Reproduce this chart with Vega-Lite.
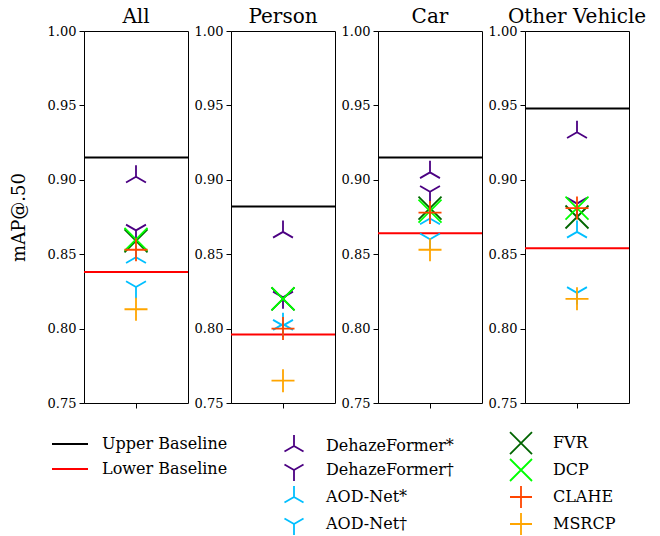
{
  "$schema": "https://vega.github.io/schema/vega-lite/v6.json",
  "background": "white",
  "padding": {"left": 9, "top": 6, "right": 10, "bottom": 5},
  "datasets": {
    "points": [
      {"panel": "All", "method": "DehazeFormer*", "value": 0.902},
      {"panel": "All", "method": "DehazeFormer†", "value": 0.866},
      {"panel": "All", "method": "AOD-Net*", "value": 0.848},
      {"panel": "All", "method": "AOD-Net†", "value": 0.828},
      {"panel": "All", "method": "FVR", "value": 0.859},
      {"panel": "All", "method": "DCP", "value": 0.860},
      {"panel": "All", "method": "CLAHE", "value": 0.853},
      {"panel": "All", "method": "MSRCP", "value": 0.813},
      {"panel": "Person", "method": "DehazeFormer*", "value": 0.865},
      {"panel": "Person", "method": "DehazeFormer†", "value": 0.821},
      {"panel": "Person", "method": "AOD-Net*", "value": 0.803},
      {"panel": "Person", "method": "AOD-Net†", "value": 0.802},
      {"panel": "Person", "method": "FVR", "value": 0.820},
      {"panel": "Person", "method": "DCP", "value": 0.820},
      {"panel": "Person", "method": "CLAHE", "value": 0.800},
      {"panel": "Person", "method": "MSRCP", "value": 0.765},
      {"panel": "Car", "method": "DehazeFormer*", "value": 0.905},
      {"panel": "Car", "method": "DehazeFormer†", "value": 0.892},
      {"panel": "Car", "method": "AOD-Net*", "value": 0.874},
      {"panel": "Car", "method": "AOD-Net†", "value": 0.860},
      {"panel": "Car", "method": "FVR", "value": 0.881},
      {"panel": "Car", "method": "DCP", "value": 0.879},
      {"panel": "Car", "method": "CLAHE", "value": 0.878},
      {"panel": "Car", "method": "MSRCP", "value": 0.853},
      {"panel": "Other Vehicle", "method": "DehazeFormer*", "value": 0.932},
      {"panel": "Other Vehicle", "method": "DehazeFormer†", "value": 0.884},
      {"panel": "Other Vehicle", "method": "AOD-Net*", "value": 0.865},
      {"panel": "Other Vehicle", "method": "AOD-Net†", "value": 0.824},
      {"panel": "Other Vehicle", "method": "FVR", "value": 0.875},
      {"panel": "Other Vehicle", "method": "DCP", "value": 0.881},
      {"panel": "Other Vehicle", "method": "CLAHE", "value": 0.881},
      {"panel": "Other Vehicle", "method": "MSRCP", "value": 0.820}
    ],
    "baselines": [
      {"panel": "All", "baseline": "Upper Baseline", "value": 0.915},
      {"panel": "All", "baseline": "Lower Baseline", "value": 0.838},
      {"panel": "Person", "baseline": "Upper Baseline", "value": 0.882},
      {"panel": "Person", "baseline": "Lower Baseline", "value": 0.796},
      {"panel": "Car", "baseline": "Upper Baseline", "value": 0.915},
      {"panel": "Car", "baseline": "Lower Baseline", "value": 0.864},
      {"panel": "Other Vehicle", "baseline": "Upper Baseline", "value": 0.948},
      {"panel": "Other Vehicle", "baseline": "Lower Baseline", "value": 0.854}
    ]
  },
  "config": {
    "font": "DejaVu Serif",
    "view": {"stroke": "black", "strokeWidth": 1},
    "axis": {"labelFont": "DejaVu Serif", "labelFontSize": 13, "labelColor": "black", "tickColor": "black", "tickSize": 5, "tickWidth": 1, "domainColor": "black", "grid": false, "labelPadding": 3, "titleFont": "DejaVu Serif", "titleFontSize": 18, "titleFontWeight": "normal", "titleColor": "black"},
    "title": {"font": "DejaVu Serif", "fontSize": 20, "fontWeight": "normal", "color": "black", "offset": -2},
    "legend": {"labelFont": "DejaVu Serif", "labelFontSize": 16, "labelColor": "black", "labelLimit": 400, "padding": 0}
  },
  "spacing": 43,
  "bounds": "flush",
  "resolve": {"scale": {"color": "shared", "shape": "shared", "stroke": "shared"}},
  "hconcat": [
    {
      "width": 104, "height": 372, "title": "All",
      "encoding": {"y": {"field": "value", "type": "quantitative", "scale": {"domain": [0.75, 1.0], "nice": false, "zero": false}, "axis": {"values": [0.75, 0.8, 0.85, 0.9, 0.95, 1.0], "format": ".2f", "title": "mAP@.50", "titlePadding": 19}}},
      "layer": [
        {"data": {"name": "baselines"}, "transform": [{"filter": "datum.panel === 'All'"}], "mark": {"type": "rule", "strokeWidth": 2},
         "encoding": {"stroke": {"field": "baseline", "type": "nominal", "scale": {"domain": ["Upper Baseline", "Lower Baseline"], "range": ["black", "red"]}, "legend": {"title": null, "orient": "none", "legendX": -27, "legendY": 400, "symbolType": "M-1.5,0L1.5,0", "symbolSize": 576, "symbolStrokeWidth": 2, "rowPadding": 4, "labelOffset": 19}}}},
        {"data": {"name": "points"}, "transform": [{"filter": "datum.panel === 'All'"}], "mark": {"type": "point", "filled": false, "strokeWidth": 1.8, "size": 529, "opacity": 1},
         "encoding": {
           "x": {"datum": "c", "type": "nominal", "axis": {"labels": false, "title": null, "domain": false}},
           "color": {"field": "method", "type": "nominal", "scale": {"domain": ["DehazeFormer*", "DehazeFormer†", "AOD-Net*", "AOD-Net†", "FVR", "DCP", "CLAHE", "MSRCP"], "range": ["#4B0082", "#4B0082", "#00BFFF", "#00BFFF", "#006400", "#00FF00", "#FF4500", "#FFA500"]}, "legend": {"title": null, "orient": "none", "legendX": 198, "legendY": 400, "columns": 2, "columnPadding": 52, "rowPadding": -4, "symbolSize": 484, "symbolStrokeWidth": 1.8, "labelOffset": 20}},
           "shape": {"field": "method", "type": "nominal", "scale": {"domain": ["DehazeFormer*", "DehazeFormer†", "AOD-Net*", "AOD-Net†", "FVR", "DCP", "CLAHE", "MSRCP"], "range": ["M0,0L0,-1M0,0L-0.866,0.5M0,0L0.866,0.5", "M0,0L0,1M0,0L-0.866,-0.5M0,0L0.866,-0.5", "M0,0L0,-1M0,0L-0.866,0.5M0,0L0.866,0.5", "M0,0L0,1M0,0L-0.866,-0.5M0,0L0.866,-0.5", "M-1,-1L1,1M-1,1L1,-1", "M-1,-1L1,1M-1,1L1,-1", "M-1,0L1,0M0,-1L0,1", "M-1,0L1,0M0,-1L0,1"]}, "legend": {"title": null, "orient": "none", "legendX": 198, "legendY": 400, "columns": 2, "columnPadding": 52, "rowPadding": -4, "symbolSize": 484, "symbolStrokeWidth": 1.8, "labelOffset": 20}}
         }}
      ]
    },
    {
      "width": 104, "height": 372, "title": "Person",
      "encoding": {"y": {"field": "value", "type": "quantitative", "scale": {"domain": [0.75, 1.0], "nice": false, "zero": false}, "axis": {"values": [0.75, 0.8, 0.85, 0.9, 0.95, 1.0], "format": ".2f", "title": null}}},
      "layer": [
        {"data": {"name": "baselines"}, "transform": [{"filter": "datum.panel === 'Person'"}], "mark": {"type": "rule", "strokeWidth": 2},
         "encoding": {"stroke": {"field": "baseline", "type": "nominal"}}},
        {"data": {"name": "points"}, "transform": [{"filter": "datum.panel === 'Person'"}], "mark": {"type": "point", "filled": false, "strokeWidth": 1.8, "size": 529, "opacity": 1},
         "encoding": {
           "x": {"datum": "c", "type": "nominal", "axis": {"labels": false, "title": null, "domain": false}},
           "color": {"field": "method", "type": "nominal"},
           "shape": {"field": "method", "type": "nominal"}
         }}
      ]
    },
    {
      "width": 104, "height": 372, "title": "Car",
      "encoding": {"y": {"field": "value", "type": "quantitative", "scale": {"domain": [0.75, 1.0], "nice": false, "zero": false}, "axis": {"values": [0.75, 0.8, 0.85, 0.9, 0.95, 1.0], "format": ".2f", "title": null}}},
      "layer": [
        {"data": {"name": "baselines"}, "transform": [{"filter": "datum.panel === 'Car'"}], "mark": {"type": "rule", "strokeWidth": 2},
         "encoding": {"stroke": {"field": "baseline", "type": "nominal"}}},
        {"data": {"name": "points"}, "transform": [{"filter": "datum.panel === 'Car'"}], "mark": {"type": "point", "filled": false, "strokeWidth": 1.8, "size": 529, "opacity": 1},
         "encoding": {
           "x": {"datum": "c", "type": "nominal", "axis": {"labels": false, "title": null, "domain": false}},
           "color": {"field": "method", "type": "nominal"},
           "shape": {"field": "method", "type": "nominal"}
         }}
      ]
    },
    {
      "width": 104, "height": 372, "title": "Other Vehicle",
      "encoding": {"y": {"field": "value", "type": "quantitative", "scale": {"domain": [0.75, 1.0], "nice": false, "zero": false}, "axis": {"values": [0.75, 0.8, 0.85, 0.9, 0.95, 1.0], "format": ".2f", "title": null}}},
      "layer": [
        {"data": {"name": "baselines"}, "transform": [{"filter": "datum.panel === 'Other Vehicle'"}], "mark": {"type": "rule", "strokeWidth": 2},
         "encoding": {"stroke": {"field": "baseline", "type": "nominal"}}},
        {"data": {"name": "points"}, "transform": [{"filter": "datum.panel === 'Other Vehicle'"}], "mark": {"type": "point", "filled": false, "strokeWidth": 1.8, "size": 529, "opacity": 1},
         "encoding": {
           "x": {"datum": "c", "type": "nominal", "axis": {"labels": false, "title": null, "domain": false}},
           "color": {"field": "method", "type": "nominal"},
           "shape": {"field": "method", "type": "nominal"}
         }}
      ]
    }
  ]
}
